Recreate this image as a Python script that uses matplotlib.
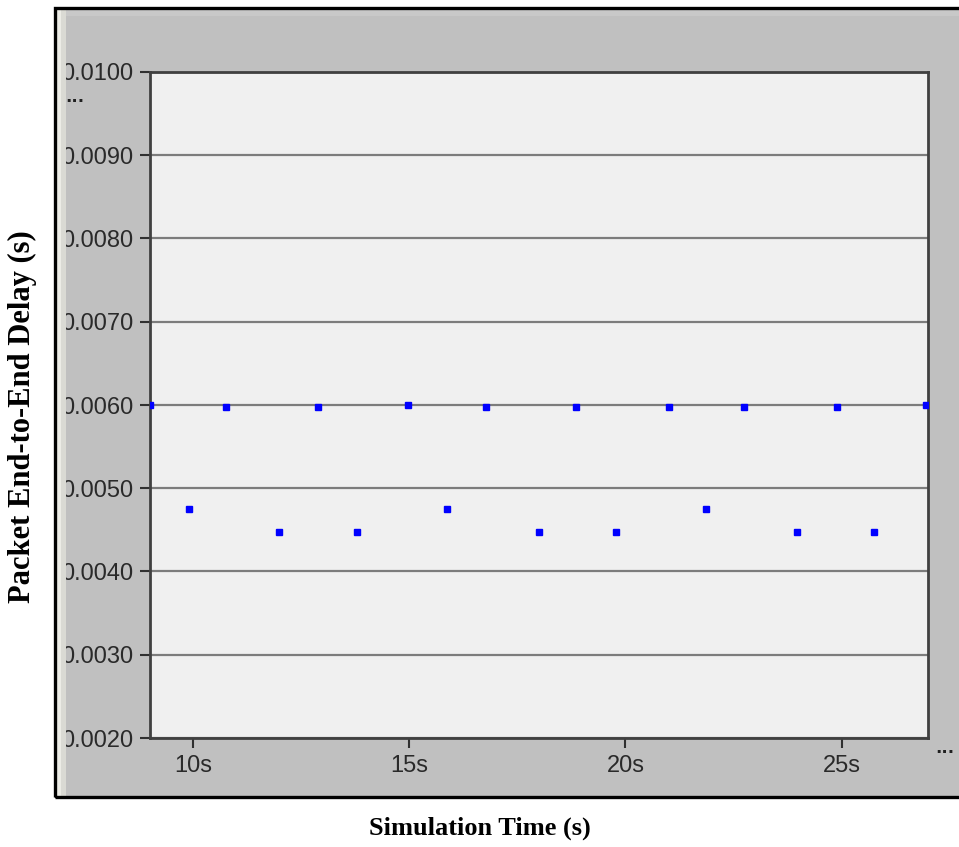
import matplotlib
matplotlib.use('Agg')
import matplotlib.pyplot as plt
from matplotlib.patches import Rectangle
from matplotlib.ticker import FormatStrFormatter

##
##  D a t a
##
sim_time = [9.0, 9.90, 10.75, 11.98, 12.88, 13.78, 14.96, 15.86, 16.78, 18.0,
            18.85, 19.78, 21.0, 21.87, 22.75, 23.97, 24.90, 25.75, 26.95]
delay = [0.00600, 0.00475, 0.00597, 0.00447, 0.00597, 0.00447, 0.00600, 0.00475,
         0.00597, 0.00447, 0.00597, 0.00447, 0.00597, 0.00475, 0.00597, 0.00447,
         0.00597, 0.00447, 0.00600]
x_ticks = [10, 15, 20, 25]
x_ticklabels = ['10s', '15s', '20s', '25s']
y_ticks = [0.002, 0.003, 0.004, 0.005, 0.006, 0.007, 0.008, 0.009, 0.010]

W, H = 959, 847

def fig_rect(x0, y0, x1, y1, **kw):
    # pixel box (top-left origin) -> figure fraction rectangle
    return Rectangle((x0 / W, 1 - y1 / H), (x1 - x0) / W, (y1 - y0) / H,
                     transform=fig.transFigure, **kw)

fig = plt.figure(figsize=(W / 100, H / 100), dpi=100)
fig.patch.set_facecolor('white')

# grey panel and its frame
fig.add_artist(fig_rect(55, 9, 970, 796, facecolor='#c0c0c0', edgecolor='none', zorder=-5))
fig.add_artist(fig_rect(55, 9, 970, 16, facecolor='#c8c8c8', edgecolor='none', zorder=-4))
fig.add_artist(fig_rect(55, 8, 970, 797, facecolor='none', edgecolor='black',
                        linewidth=2.4, zorder=20))
# light strip on the left, it hides the first digit of the y labels
fig.add_artist(fig_rect(56, 9, 61, 796, facecolor='#ecece6', edgecolor='none', zorder=10))
fig.add_artist(fig_rect(61, 9, 66, 796, facecolor='#dadad4', edgecolor='none', zorder=10))

ax = fig.add_axes([150 / W, (H - 738) / H, (928 - 150) / W, (738 - 72) / H])
ax.set_facecolor('#f0f0f0')

ax.plot(sim_time, delay, linestyle='none', marker='s', markersize=4.5,
        color='#0000ff', zorder=5)

ax.set_xlim(9, 27)
ax.set_ylim(0.002, 0.010)
ax.set_xticks(x_ticks)
ax.set_xticklabels(x_ticklabels)
ax.set_yticks(y_ticks)
ax.yaxis.set_major_formatter(FormatStrFormatter('%.4f'))

ax.grid(axis='y', color='#7c7c7c', linewidth=1.6)
ax.set_axisbelow(True)
for sp in ax.spines.values():
    sp.set_color('#404040')
    sp.set_linewidth(2)

ax.tick_params(axis='both', labelsize=17, labelcolor='#2a2a2a', color='#303030',
               length=7, width=1.5, pad=5)
for lab in ax.get_xticklabels() + ax.get_yticklabels():
    lab.set_family('Liberation Sans')

# the little "..." markers of the original tool
fig.text(75 / W, 1 - 97 / H, '...', fontsize=12, fontweight='bold',
         ha='center', va='center', color='#202020')
fig.text(945 / W, 1 - 748 / H, '...', fontsize=12, fontweight='bold',
         ha='center', va='center', color='#202020')

fig.text(480 / W, 1 - 828 / H, 'Simulation Time (s)', fontsize=19, fontweight='bold',
         family='Liberation Serif', ha='center', va='center')
fig.text(22 / W, 1 - 417 / H, 'Packet End-to-End Delay (s)', fontsize=22,
         fontweight='bold', family='Liberation Serif', rotation=90,
         ha='center', va='center')

fig.savefig('out.png', dpi=100)
plt.close(fig)
